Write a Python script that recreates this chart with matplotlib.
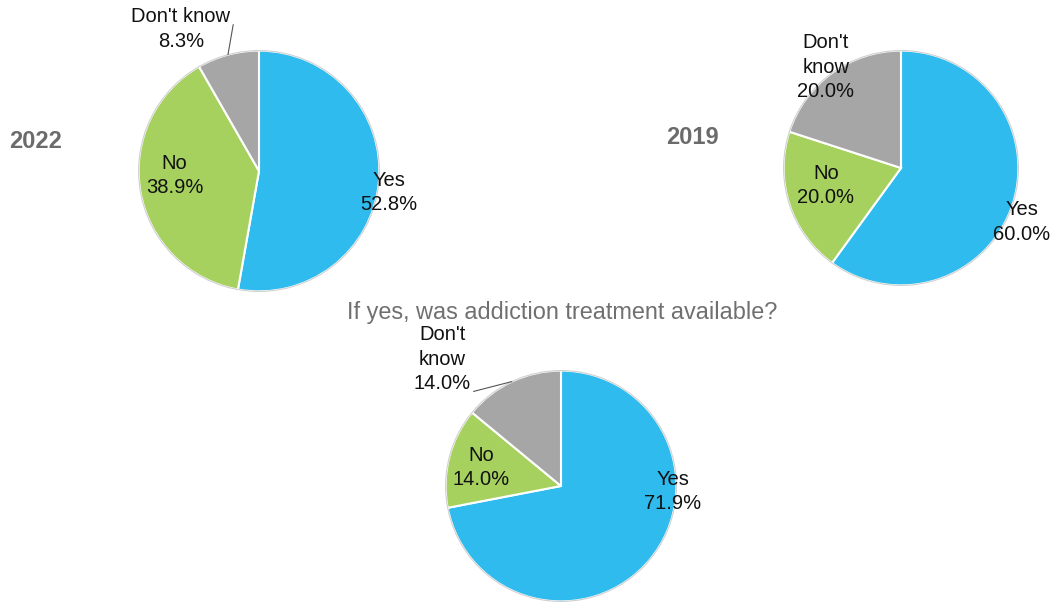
import matplotlib
matplotlib.use('Agg')
import numpy as np
import matplotlib.pyplot as plt
from matplotlib.patches import Circle

plt.rcParams['font.family'] = ['Liberation Sans', 'DejaVu Sans']

# data
categories = ['Yes', 'No', "Don't know"]
share_2022 = [52.8, 38.9, 8.3]
share_2019 = [60.0, 20.0, 20.0]
share_treatment = [71.9, 14.0, 14.0]
title_treatment = 'If yes, was addiction treatment available?'

colors = ['#2FBBEE', '#A6D15F', '#A7A6A7']
W, H = 1057, 602


def pie_axes(fig, cx, cy, r):
    # place an axes from pixel centre / radius
    ax = fig.add_axes([(cx - r) / W, (H - cy - r) / H, 2 * r / W, 2 * r / H])
    return ax


def draw_pie(ax, values, label_pos, wrap=False, leader=None, relpos=(0.5, 0.5)):
    wedges, _ = ax.pie(values, colors=colors, startangle=90, counterclock=False,
                       radius=1, wedgeprops=dict(edgecolor='white', linewidth=1.5))
    ax.add_patch(Circle((0, 0), 1, fill=False, ec='#D0D0D0', lw=0.8))
    # pie() sets its own limits, override so the circle fills the axes
    ax.set_xlim(-1.005, 1.005)
    ax.set_ylim(-1.005, 1.005)
    ax.set_aspect('equal')
    ax.axis('off')
    for i, (cat, val) in enumerate(zip(categories, values)):
        name = cat.replace(' ', '\n') if wrap else cat
        txt = f'{name}\n{val:.1f}%'
        if leader is not None and i == leader:
            w = wedges[i]
            mid = np.deg2rad((w.theta1 + w.theta2) / 2)
            ax.annotate(txt, xy=(np.cos(mid), np.sin(mid)), xytext=label_pos[i],
                        ha='center', va='center', fontsize=14.5, color='#111111',
                        linespacing=1.35,
                        arrowprops=dict(arrowstyle='-', color='#555555', lw=0.8,
                                        shrinkA=0, shrinkB=0, patchA=None,
                                        relpos=relpos))
        else:
            ax.text(*label_pos[i], txt, ha='center', va='center', fontsize=14.5,
                    color='#111111', linespacing=1.35)


fig = plt.figure(figsize=(W / 100, H / 100), dpi=100)

ax1 = pie_axes(fig, 259, 171, 121)
draw_pie(ax1, share_2022, [(1.08, -0.18), (-0.70, -0.04), (-0.65, 1.18)],
         leader=2, relpos=(1.03, 0.6))

ax2 = pie_axes(fig, 901, 168, 118)
draw_pie(ax2, share_2019, [(1.03, -0.46), (-0.64, -0.15), (-0.64, 0.86)], wrap=True)

ax3 = pie_axes(fig, 561, 486, 116)
draw_pie(ax3, share_treatment, [(0.97, -0.05), (-0.69, 0.16), (-1.03, 1.10)],
         wrap=True, leader=2, relpos=(1.05, 0.02))

fig.text(36 / W, 1 - 142 / H, '2022', ha='center', va='center', fontsize=17,
         fontweight='bold', color='#6B6B6B')
fig.text(692 / W, 1 - 137 / H, '2019', ha='center', va='center', fontsize=17,
         fontweight='bold', color='#6B6B6B')
fig.text(562 / W, 1 - 312 / H, title_treatment, ha='center', va='center',
         fontsize=16.9, color='#707070')

fig.savefig('out.png', dpi=100, facecolor='white')
